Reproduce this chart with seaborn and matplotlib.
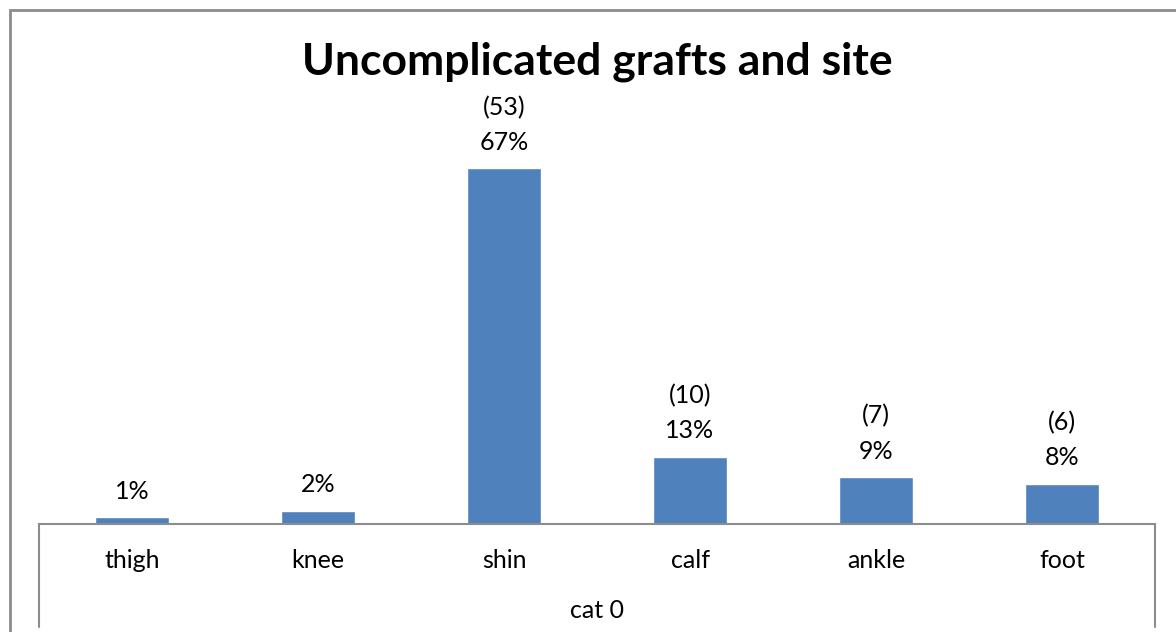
import matplotlib
matplotlib.use("Agg")
import matplotlib.pyplot as plt
import matplotlib.transforms as mtransforms
from matplotlib.patches import Rectangle
import seaborn as sns
import pandas as pd

sites = ["thigh", "knee", "shin", "calf", "ankle", "foot"]
counts = [1, 2, 53, 10, 7, 6]
total = 79
pct_labels = ["1%", "2%", "67%", "13%", "9%", "8%"]
count_labels = ["", "", "(53)", "(10)", "(7)", "(6)"]
title = "Uncomplicated grafts and site"
group_label = "cat 0"

sns.set_style("white")
plt.rcParams["font.family"] = ["Lato", "DejaVu Sans"]
plt.rcParams["text.color"] = "black"
plt.rcParams["xtick.color"] = "black"
plt.rcParams["xtick.labelcolor"] = "black"

df = pd.DataFrame({"site": sites, "pct": [c / total * 100 for c in counts]})

W, H, DPI = 1176, 632, 100
fig = plt.figure(figsize=(W / DPI, H / DPI), dpi=DPI)
ax_left, ax_right, ax_bottom, ax_top = 39, 1155, 524, 100
ax = fig.add_axes([ax_left / W, 1 - ax_bottom / H, (ax_right - ax_left) / W, (ax_bottom - ax_top) / H])

sns.barplot(data=df, x="site", y="pct", color="#4f81bd", width=0.4, ax=ax, saturation=1)
ax.set_xlim(-0.5, len(sites) - 0.5)
ax.set_ylim(0, 80)
for s in ["top", "right", "left"]:
    ax.spines[s].set_visible(False)
ax.spines["bottom"].set_color("#8c8c8c")
ax.spines["bottom"].set_linewidth(1.5)
ax.set_yticks([])
ax.set_ylabel("")
ax.set_xlabel("")
ax.tick_params(axis="x", length=0, pad=18, labelsize=18, labelcolor="black")

fs = 18
for i, (p, c, v) in enumerate(zip(pct_labels, count_labels, df["pct"])):
    ax.annotate(p, (i, v), xytext=(0, 26), textcoords="offset pixels",
                ha="center", va="center", fontsize=fs, color="black")
    if c:
        ax.annotate(c, (i, v), xytext=(0, 61), textcoords="offset pixels",
                    ha="center", va="center", fontsize=fs, color="black")

trans = mtransforms.blended_transform_factory(ax.transData, ax.transAxes)
for xv in [-0.5, len(sites) - 0.5]:
    ax.plot([xv, xv], [0, -103 / (ax_bottom - ax_top)], transform=trans,
            color="#8c8c8c", lw=1.5, clip_on=False)

fig.text((ax_left + ax_right) / 2 / W, 1 - 610 / H, group_label, ha="center", va="center",
         fontsize=fs, color="black")
fig.text(597 / W, 1 - 62 / H, title, ha="center", va="center", fontsize=32,
         fontweight="bold", color="black")

fig.patches.append(Rectangle((10 / W, -0.1), 1.2, 1 - 10 / H + 0.1, transform=fig.transFigure,
                             fill=False, edgecolor="#8c8c8c", lw=2))

fig.savefig("out.png", dpi=DPI)
